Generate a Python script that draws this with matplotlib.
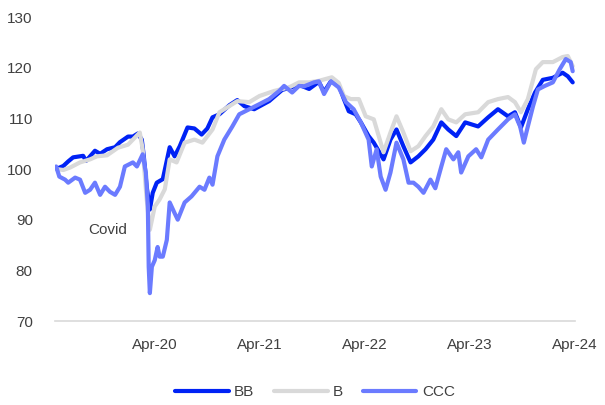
import matplotlib
matplotlib.use("Agg")
import matplotlib.pyplot as plt
import matplotlib.dates as mdates
import pandas as pd

plt.rcParams["font.family"] = ["Liberation Sans", "DejaVu Sans"]

# High-yield index levels by rating bucket (rebased to 100)
bb_dates = [
    "2019-04-24", "2019-05-19", "2019-06-05", "2019-06-22", "2019-07-27", "2019-08-06",
    "2019-09-06", "2019-09-24", "2019-10-18", "2019-11-15", "2019-12-02", "2019-12-30",
    "2020-01-16", "2020-02-02", "2020-02-16", "2020-02-23", "2020-03-04", "2020-03-15",
    "2020-03-25", "2020-04-08", "2020-04-29", "2020-05-23", "2020-06-09", "2020-06-27",
    "2020-07-24", "2020-08-17", "2020-09-11", "2020-10-01", "2020-10-19", "2020-11-12",
    "2020-12-17", "2021-01-13", "2021-02-07", "2021-03-13", "2021-05-04", "2021-06-18",
    "2021-07-12", "2021-08-16", "2021-09-20", "2021-10-24", "2021-11-11", "2021-12-08",
    "2022-01-01", "2022-01-19", "2022-02-05", "2022-03-01", "2022-03-19", "2022-04-15",
    "2022-05-03", "2022-06-06", "2022-06-30", "2022-07-21", "2022-08-14", "2022-09-08",
    "2022-10-05", "2022-10-30", "2022-11-26", "2022-12-24", "2023-01-17", "2023-02-14",
    "2023-03-17", "2023-05-01", "2023-06-05", "2023-07-09", "2023-08-13", "2023-09-06",
    "2023-09-27", "2023-10-21", "2023-11-15", "2023-12-12", "2024-01-16", "2024-02-19",
    "2024-03-08", "2024-03-25",
]
bb_values = [
    100.0, 100.6, 101.5, 102.3, 102.6, 101.6,
    103.6, 103.0, 103.9, 104.3, 105.3, 106.4,
    106.4, 107.0, 105.8, 102.5, 96.5, 92.0,
    95.3, 97.3, 98.0, 104.3, 102.5, 104.5,
    108.2, 108.0, 106.8, 108.0, 110.2, 110.8,
    112.6, 113.6, 112.4, 111.8, 113.4, 115.6,
    116.0, 116.6, 115.8, 117.2, 115.2, 117.6,
    116.6, 113.8, 111.4, 110.8, 109.2, 106.5,
    105.2, 101.9, 105.8, 107.8, 104.5, 101.3,
    102.5, 103.9, 105.8, 109.2, 107.8, 106.5,
    109.2, 108.4, 110.2, 111.8, 110.4, 111.2,
    108.2, 111.8, 115.1, 117.6, 118.0, 119.0,
    118.3, 117.1,
]

b_dates = [
    "2019-04-24", "2019-05-19", "2019-06-12", "2019-07-16", "2019-08-20", "2019-09-13",
    "2019-10-18", "2019-11-25", "2019-12-30", "2020-02-02", "2020-02-09", "2020-02-19",
    "2020-03-04", "2020-03-15", "2020-04-01", "2020-04-18", "2020-05-06", "2020-05-23",
    "2020-06-16", "2020-07-14", "2020-08-17", "2020-09-14", "2020-10-19", "2020-11-12",
    "2021-01-13", "2021-02-24", "2021-03-31", "2021-05-21", "2021-07-12", "2021-08-16",
    "2021-09-20", "2021-10-24", "2021-12-08", "2022-01-01", "2022-01-19", "2022-02-12",
    "2022-03-12", "2022-04-05", "2022-05-03", "2022-06-06", "2022-06-30", "2022-07-21",
    "2022-08-14", "2022-09-08", "2022-10-05", "2022-10-30", "2022-11-26", "2022-12-24",
    "2023-01-17", "2023-02-14", "2023-03-17", "2023-05-01", "2023-06-05", "2023-07-09",
    "2023-08-13", "2023-09-06", "2023-09-27", "2023-10-21", "2023-11-18", "2023-12-12",
    "2024-01-16", "2024-02-19", "2024-03-08", "2024-03-25",
]
b_values = [
    100.0, 99.8, 100.3, 101.3, 101.9, 102.5,
    102.7, 104.2, 104.8, 106.8, 107.2, 103.9,
    94.0, 88.0, 92.6, 94.0, 96.0, 101.9,
    101.3, 105.2, 105.8, 105.2, 107.8, 111.2,
    113.4, 113.2, 114.4, 115.4, 116.1, 117.1,
    117.1, 117.4, 118.1, 117.0, 114.4, 113.8,
    113.8, 110.4, 109.8, 103.3, 107.2, 110.4,
    107.2, 103.5, 104.5, 106.5, 108.4, 111.8,
    109.8, 109.2, 110.8, 111.2, 113.2, 113.8,
    114.2, 113.2, 111.2, 113.8, 119.7, 121.1,
    121.1, 122.1, 122.3, 120.3,
]

ccc_dates = [
    "2019-04-24", "2019-05-05", "2019-05-25", "2019-06-05", "2019-06-29", "2019-07-16",
    "2019-08-03", "2019-08-20", "2019-09-06", "2019-09-24", "2019-10-11", "2019-10-28",
    "2019-11-15", "2019-12-02", "2019-12-19", "2020-01-16", "2020-01-30", "2020-02-19",
    "2020-03-01", "2020-03-08", "2020-03-11", "2020-03-15", "2020-03-22", "2020-04-01",
    "2020-04-11", "2020-04-18", "2020-04-29", "2020-05-13", "2020-05-23", "2020-06-09",
    "2020-06-20", "2020-07-14", "2020-08-07", "2020-09-04", "2020-09-21", "2020-10-08",
    "2020-10-19", "2020-11-05", "2020-11-29", "2020-12-27", "2021-01-20", "2021-02-24",
    "2021-03-31", "2021-05-04", "2021-06-08", "2021-06-25", "2021-07-23", "2021-08-16",
    "2021-09-02", "2021-10-07", "2021-10-24", "2021-11-11", "2021-12-05", "2022-01-01",
    "2022-01-26", "2022-02-22", "2022-03-19", "2022-04-15", "2022-04-26", "2022-05-13",
    "2022-05-27", "2022-06-13", "2022-06-30", "2022-07-21", "2022-08-14", "2022-09-01",
    "2022-09-18", "2022-10-05", "2022-10-23", "2022-11-16", "2022-12-03", "2022-12-24",
    "2023-01-10", "2023-02-04", "2023-02-21", "2023-03-03", "2023-03-28", "2023-04-24",
    "2023-05-12", "2023-06-05", "2023-07-09", "2023-08-13", "2023-09-06", "2023-09-24",
    "2023-10-07", "2023-10-21", "2023-11-08", "2023-11-25", "2023-12-19", "2024-01-16",
    "2024-02-09", "2024-03-01", "2024-03-18", "2024-03-25",
]
ccc_values = [
    100.5, 98.5, 97.9, 97.3, 98.3, 97.9,
    95.3, 95.9, 97.3, 94.9, 96.5, 95.5,
    94.9, 96.5, 100.5, 101.3, 100.5, 102.9,
    99.3, 92.6, 80.7, 75.5, 80.7, 82.0,
    84.6, 82.7, 82.7, 86.0, 93.4, 91.3,
    90.0, 93.4, 94.6, 96.5, 95.9, 98.3,
    96.9, 102.5, 105.8, 108.4, 110.8, 111.8,
    112.8, 113.8, 115.4, 116.4, 115.1, 116.4,
    116.3, 117.1, 117.3, 114.8, 117.3, 116.1,
    113.2, 111.8, 109.2, 105.8, 100.5, 103.9,
    98.5, 95.9, 99.3, 105.2, 101.9, 97.3,
    97.3, 96.5, 95.3, 97.9, 96.2, 100.5,
    103.9, 101.9, 103.3, 99.3, 102.5, 103.9,
    102.3, 105.8, 107.8, 109.8, 110.8, 108.4,
    105.2, 108.4, 112.4, 115.7, 116.4, 117.1,
    119.7, 121.7, 121.1, 119.3,
]

series = [
    ("BB", bb_dates, bb_values, "#0022F5"),
    ("B", b_dates, b_values, "#D9D9D9"),
    ("CCC", ccc_dates, ccc_values, "#6B7BFF"),
]

y_ticks = [70, 80, 90, 100, 110, 120, 130]
annotation_text = "Covid"

text_color = "#404040"

fig = plt.figure(figsize=(6.05, 4.05), dpi=100)
ax = fig.add_axes([55 / 605, 1 - 321 / 405, 520 / 605, 304 / 405])

for name, d, v, c in series:
    ax.plot(pd.to_datetime(d), v, color=c, lw=3.0, label=name,
            solid_joinstyle="round", solid_capstyle="round")

ax.set_ylim(70, 130)
ax.set_yticks(y_ticks)
ax.set_xlim(pd.Timestamp("2019-04-20"), pd.Timestamp("2024-04-02"))
ax.xaxis.set_major_locator(mdates.MonthLocator(bymonth=4, bymonthday=1))
ax.xaxis.set_major_formatter(mdates.DateFormatter("%b-%y"))

for side in ("top", "right", "left"):
    ax.spines[side].set_visible(False)
ax.spines["bottom"].set_color("#D9D9D9")
ax.spines["bottom"].set_linewidth(1.2)
ax.tick_params(axis="both", length=0, labelsize=11, colors=text_color)
ax.tick_params(axis="y", pad=16)
ax.tick_params(axis="x", pad=12)

ax.text(pd.Timestamp("2019-08-13"), 88.0, annotation_text, fontsize=11,
        color=text_color, ha="left", va="center")

fig.legend(loc="center", bbox_to_anchor=(315 / 605, 1 - 392 / 405), ncol=3,
           frameon=False, fontsize=11, handlelength=3.5, handletextpad=0.35,
           columnspacing=1.3, labelcolor=text_color)

fig.savefig("out.png", dpi=100)
